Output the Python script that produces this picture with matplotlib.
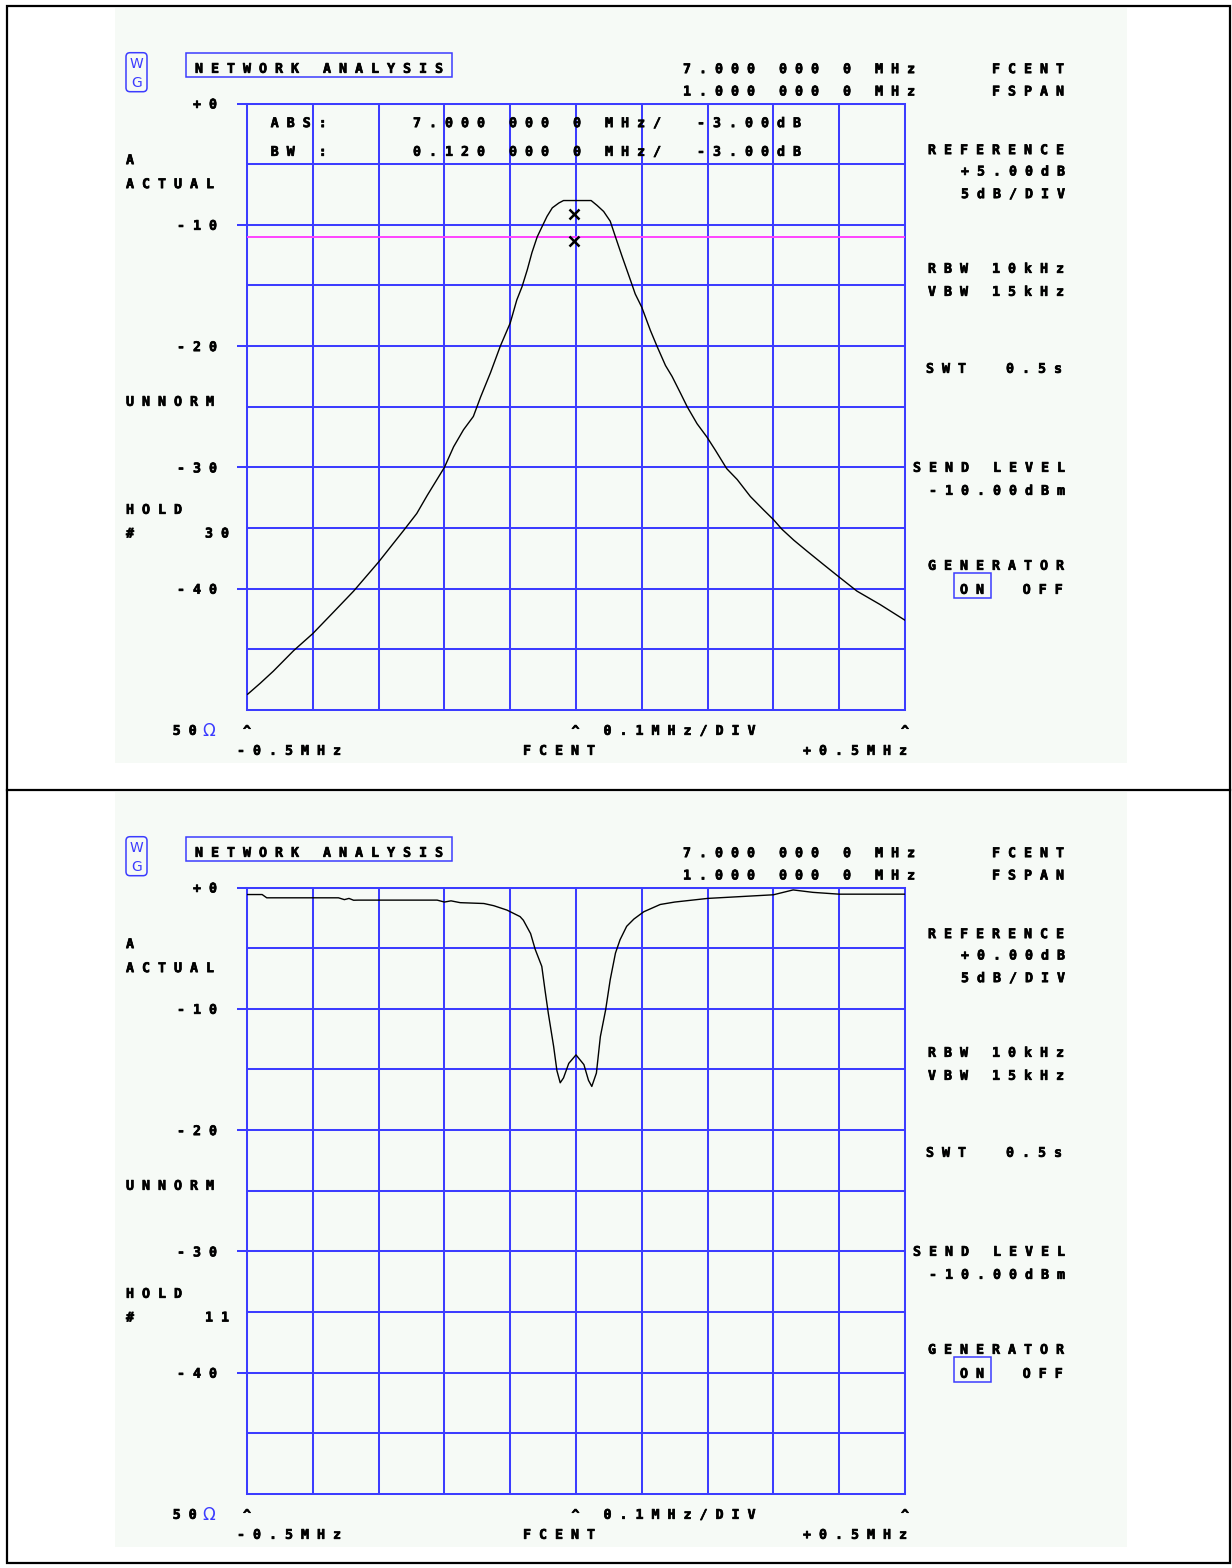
import matplotlib
matplotlib.use("Agg")
import matplotlib.pyplot as plt
import matplotlib.patheffects as pe
from matplotlib.patches import Rectangle, FancyBboxPatch

W, H = 1232, 1568
BLUE = "#3c3cff"
MAG = "#ff44ff"
BG = "#f6faf6"
MONO = "DejaVu Sans Mono"
FS = 9.57

# frequency axis: 7.000 MHz centre, 1 MHz span, 0.1 MHz/div
f_center = 7.0
f_span = 1.0
db_ticks = [0, -10, -20, -30, -40]
db_labels = ["+0", "-10", "-20", "-30", "-40"]

# upper trace: band-pass response (offset from centre in MHz, dB)
top_off = [-0.499, -0.480, -0.460, -0.429, -0.400, -0.368, -0.338, -0.300,
           -0.262, -0.242, -0.226, -0.200, -0.186, -0.171, -0.156, -0.145,
           -0.130, -0.115, -0.100, -0.090, -0.082, -0.074, -0.067, -0.059,
           -0.052, -0.044, -0.036, -0.026, -0.019, 0.023, 0.032, 0.042,
           0.052, 0.060, 0.070, 0.083, 0.090, 0.100, 0.113, 0.123, 0.136,
           0.146, 0.159, 0.169, 0.184, 0.199, 0.212, 0.229, 0.245, 0.265,
           0.285, 0.300, 0.313, 0.331, 0.351, 0.376, 0.399, 0.427, 0.462,
           0.500]
top_db = [-48.7, -47.8, -46.8, -45.1, -43.7, -41.9, -40.2, -37.8,
          -35.2, -33.8, -32.3, -30.0, -28.3, -26.9, -25.8, -24.2,
          -22.2, -20.0, -18.1, -16.2, -15.1, -13.7, -12.3, -11.0,
          -10.2, -9.3, -8.6, -8.2, -8.0, -8.0, -8.4, -8.9,
          -9.7, -11.0, -12.6, -14.6, -15.7, -16.8, -18.7, -20.0, -21.6,
          -22.5, -23.9, -25.0, -26.4, -27.5, -28.6, -30.1, -31.0, -32.4,
          -33.5, -34.3, -35.1, -36.0, -36.9, -38.0, -39.0, -40.2, -41.3,
          -42.6]
top_ref_line = -11.03
top_marks_off = [-0.0035, -0.0035]
top_marks_db = [-9.1, -11.3]

# lower trace: notch response
bot_off = [-0.500, -0.477, -0.470, -0.361, -0.352, -0.345, -0.338, -0.331,
           -0.211, -0.200, -0.190, -0.176, -0.140, -0.125, -0.105, -0.085,
           -0.080, -0.069, -0.062, -0.052, -0.047, -0.042, -0.034, -0.029,
           -0.024, -0.019, -0.011, 0.000, 0.012, 0.019, 0.024, 0.031, 0.037,
           0.045, 0.052, 0.060, 0.067, 0.077, 0.088, 0.103, 0.128, 0.150,
           0.200, 0.250, 0.300, 0.330, 0.360, 0.400, 0.500]
bot_db = [-0.58, -0.58, -0.85, -0.85, -1.0, -0.9, -1.05, -1.04,
          -1.04, -1.2, -1.1, -1.25, -1.32, -1.5, -1.86, -2.4,
          -2.7, -3.8, -5.1, -6.5, -8.5, -10.4, -13.1, -15.1,
          -16.1, -15.7, -14.5, -13.8, -14.6, -15.9, -16.4, -15.3, -12.3,
          -10.1, -7.6, -5.4, -4.3, -3.2, -2.6, -2.0, -1.4, -1.2,
          -0.9, -0.75, -0.6, -0.2, -0.4, -0.55, -0.55]

fig = plt.figure(figsize=(W / 100, H / 100), dpi=100)
back = fig.add_axes([0, 0, 1, 1], zorder=0)
back.set_xlim(0, W)
back.set_ylim(H, 0)
back.axis("off")
front = fig.add_axes([0, 0, 1, 1], zorder=3)
front.set_xlim(0, W)
front.set_ylim(H, 0)
front.axis("off")
front.patch.set_alpha(0)

# outer table frame
back.add_patch(Rectangle((7, 6), 1223, 1557, fill=False, ec="black", lw=1.6))
back.plot([7, 1230], [790, 790], color="black", lw=1.6)

thick = [pe.withStroke(linewidth=0.5, foreground="black")]


def txt(x, y, s, ha="left", color="black"):
    front.text(x, y + 4.8, " ".join(s), ha=ha, va="baseline", family=MONO,
               weight="bold", size=FS, color=color, path_effects=thick)


def draw_panel(off, offsets, values, ref_text, hold, marker_info):
    back.add_patch(Rectangle((115, off + 8), 1012, 755, fc=BG, ec="none"))

    ax = fig.add_axes([247 / W, 1 - (710 + off) / H, 658 / W, 606.5 / H], zorder=1)
    ax.patch.set_alpha(0)
    freqs = [f_center + o for o in offsets]
    ax.set_xlim(f_center - f_span / 2, f_center + f_span / 2)
    ax.set_ylim(-50, 0)
    ax.set_xticks([f_center - f_span / 2 + i * f_span / 10 for i in range(11)])
    ax.set_yticks(db_ticks, [" ".join(l) for l in db_labels])
    ax.set_yticks([-5, -15, -25, -35, -45], minor=True)
    ax.grid(True, which="both", color=BLUE, lw=1.45)
    ax.tick_params(axis="x", length=0, labelbottom=False)
    ax.tick_params(axis="y", which="major", length=7.2, width=1.45, color=BLUE,
                   pad=14.4, labelsize=FS)
    ax.tick_params(axis="y", which="minor", length=0)
    for lab in ax.get_yticklabels():
        lab.set_family(MONO)
        lab.set_fontweight("bold")
        lab.set_path_effects(thick)
    for sp in ax.spines.values():
        sp.set_color(BLUE)
        sp.set_linewidth(1.45)
    ax.plot(freqs, values, color="black", lw=1.0, zorder=4)

    if marker_info:
        ax.axhline(top_ref_line, color=MAG, lw=1.4, zorder=3)
        ax.plot([f_center + o for o in top_marks_off], top_marks_db, "x",
                color="black", ms=7, mew=1.8, zorder=5)
        txt(270.7, off + 122.3, "ABS:")
        txt(270.7, off + 151, "BW :")
        txt(413, off + 122.3, "7.000 000 0 MHz/")
        txt(413, off + 151, "0.120 000 0 MHz/")
        txt(697, off + 122.3, "-3.00dB")
        txt(697, off + 151, "-3.00dB")

    # header
    front.add_patch(FancyBboxPatch((126, off + 52.7), 21, 39,
                                   boxstyle="round,pad=0,rounding_size=4",
                                   fill=False, ec=BLUE, lw=1.1))
    front.text(136.5, off + 68, "W", ha="center", va="baseline",
               family="DejaVu Sans", size=10, color=BLUE)
    front.text(136.5, off + 86.5, "G", ha="center", va="baseline",
               family="DejaVu Sans", size=10, color=BLUE)
    front.add_patch(Rectangle((186, off + 52.7), 266.3, 24, fill=False,
                              ec=BLUE, lw=1.1))
    txt(195, off + 68, "NETWORK ANALYSIS")
    txt(683, off + 68.3, "7.000 000 0 MHz")
    txt(683, off + 90.7, "1.000 000 0 MHz")
    txt(992, off + 68.3, "FCENT")
    txt(992, off + 90.7, "FSPAN")

    # left column
    txt(126, off + 159.3, "A")
    txt(126, off + 183.3, "ACTUAL")
    txt(126, off + 401, "UNNORM")
    txt(126, off + 509, "HOLD")
    txt(126, off + 532.7, "#")
    txt(205, off + 532.7, hold)
    txt(172.7, off + 730, "50")
    front.text(202, off + 735.5, "\u03a9", ha="left", va="baseline",
               family="DejaVu Sans", size=12, color=BLUE)

    # bottom scale
    txt(243, off + 730, "^")
    txt(571.5, off + 730, "^ 0.1MHz/DIV")
    txt(901, off + 730, "^")
    txt(237, off + 750, "-0.5MHz")
    txt(523, off + 750, "FCENT")
    txt(907, off + 750, "+0.5MHz", ha="right")

    # right column
    txt(928, off + 149.3, "REFERENCE")
    txt(1065, off + 170.7, ref_text, ha="right")
    txt(1065, off + 193.3, "5dB/DIV", ha="right")
    txt(928, off + 268, "RBW 10kHz")
    txt(928, off + 291, "VBW 15kHz")
    txt(926, off + 368, "SWT  0.5s")
    txt(913, off + 467, "SEND LEVEL")
    txt(1065, off + 490, "-10.00dBm", ha="right")
    txt(928, off + 565, "GENERATOR")
    front.add_patch(Rectangle((954, off + 572.7), 37.3, 25.6, fill=False,
                              ec=BLUE, lw=1.1))
    txt(960, off + 589, "ON")
    txt(1022.7, off + 589, "OFF")


draw_panel(0, top_off, top_db, "+5.00dB", "30", True)
draw_panel(784, bot_off, bot_db, "+0.00dB", "11", False)

fig.savefig("out.png", dpi=100, facecolor="white")
